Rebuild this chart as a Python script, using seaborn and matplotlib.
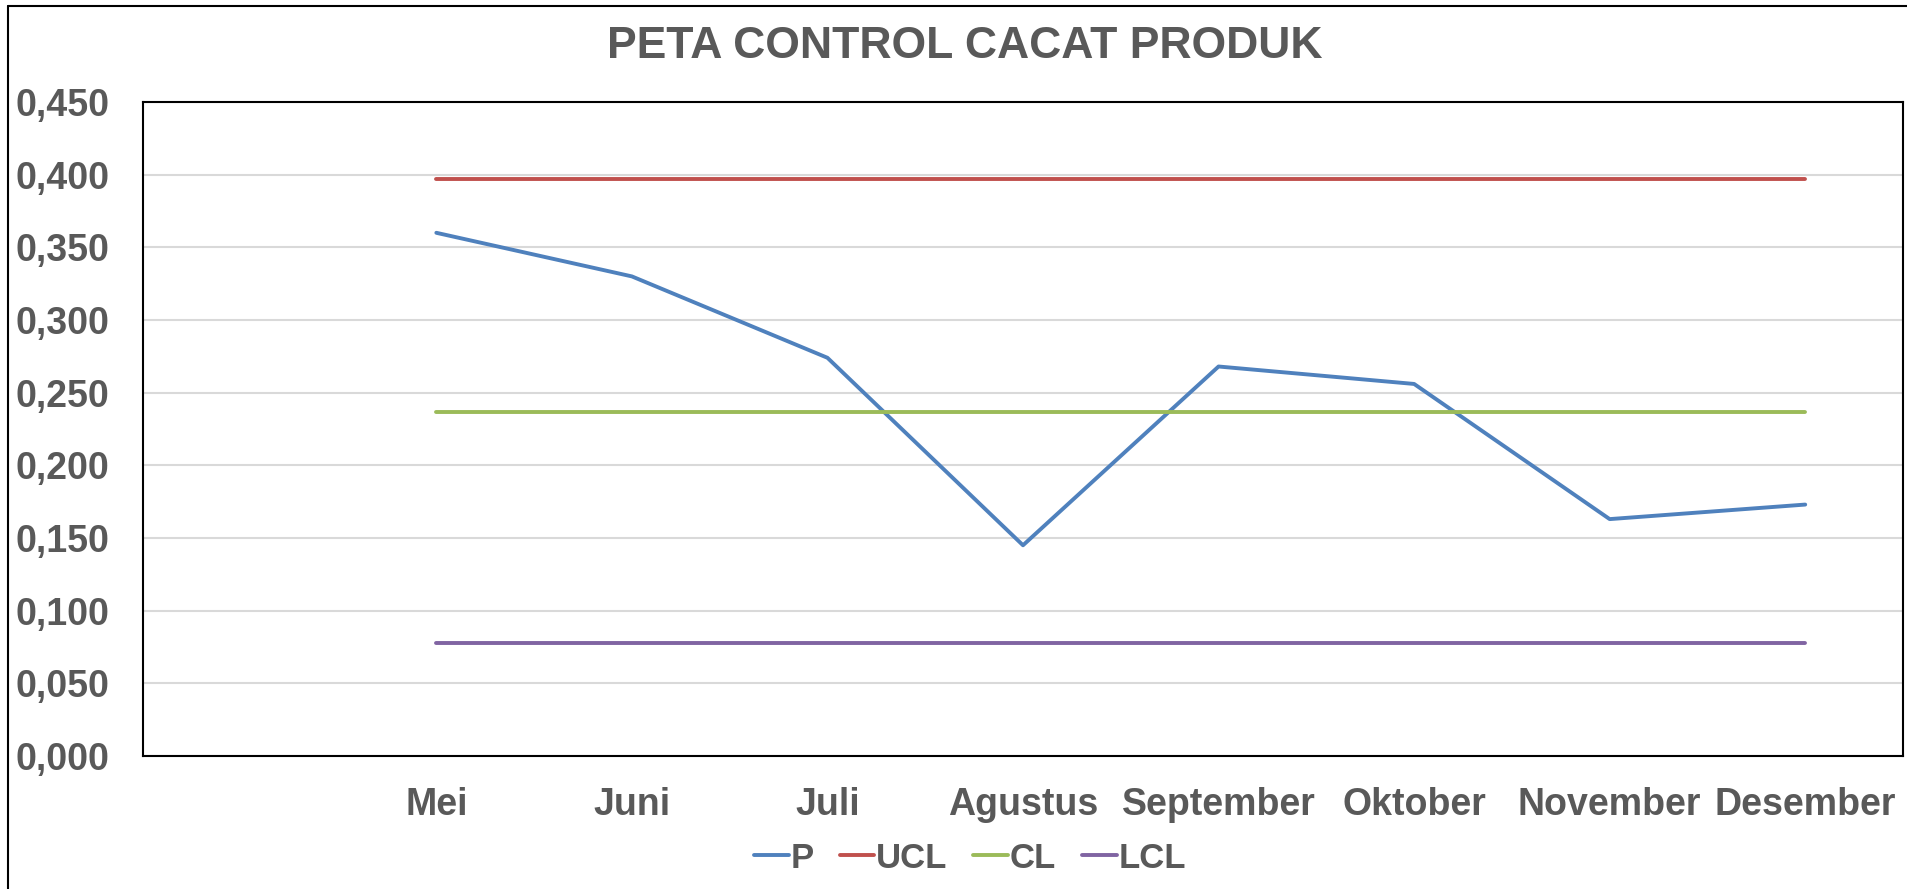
import numpy as np
import pandas as pd
import matplotlib
matplotlib.use('Agg')
import matplotlib.pyplot as plt
from matplotlib.lines import Line2D
import seaborn as sns

# Data peta kontrol
bulan = ['Mei', 'Juni', 'Juli', 'Agustus', 'September', 'Oktober', 'November', 'Desember']
p = [0.360, 0.330, 0.274, 0.145, 0.268, 0.256, 0.163, 0.173]
ucl = [0.397] * 8
cl = [0.237] * 8
lcl = [0.078] * 8

df = pd.DataFrame({'Bulan': bulan, 'P': p, 'UCL': ucl, 'CL': cl, 'LCL': lcl})
long_df = df.melt(id_vars='Bulan', var_name='Seri', value_name='Nilai')
long_df['x'] = long_df['Bulan'].map({b: i for i, b in enumerate(bulan)})

sns.set_style('white')
plt.rcParams['font.family'] = ['Liberation Sans Narrow', 'Liberation Sans', 'DejaVu Sans']

warna = {'P': '#4F81BD', 'UCL': '#C0504D', 'CL': '#9BBB59', 'LCL': '#8064A2'}
abu = '#595959'

fig = plt.figure(figsize=(19.08, 8.89), dpi=100)
ax = fig.add_axes([143 / 1908, (889 - 756) / 889, (1903 - 143) / 1908, (756 - 102) / 889])

sns.lineplot(data=long_df, x='x', y='Nilai', hue='Seri', palette=warna,
             linewidth=2.8, ax=ax, legend=False, solid_capstyle='round')

ax.set_xlim(-1.5, 7.5)
ax.set_ylim(0, 0.45)
ax.set_xticks(range(len(bulan)))
ax.set_xticklabels(bulan)
yt = np.arange(0, 0.451, 0.05)
ax.set_yticks(yt)
ax.set_yticklabels([f'{v:.3f}'.replace('.', ',') for v in yt])
ax.tick_params(axis='both', length=0, labelsize=27, labelcolor=abu)
ax.tick_params(axis='y', pad=24)
ax.tick_params(axis='x', pad=22)
for lab in ax.get_xticklabels() + ax.get_yticklabels():
    lab.set_fontweight('bold')
ax.grid(axis='y', color='#D9D9D9', linewidth=1.5)
ax.set_axisbelow(True)
for s in ax.spines.values():
    s.set_color('black')
    s.set_linewidth(1.5)
ax.set_xlabel('')
ax.set_ylabel('')

fig.text(965 / 1908, 1 - 46 / 889, 'PETA CONTROL CACAT PRODUK', ha='center', va='center',
         fontsize=32, fontweight='bold', color=abu, family=['Liberation Sans', 'DejaVu Sans'])

handles = [Line2D([0], [0], color=warna[k], lw=2.8) for k in ['P', 'UCL', 'CL', 'LCL']]
fig.legend(handles, ['P', 'UCL', 'CL', 'LCL'], loc='center', bbox_to_anchor=(970 / 1908, 1 - 858 / 889),
           ncol=4, frameon=False, handlelength=1.0, handletextpad=0.05, columnspacing=0.75,
           prop={'size': 25, 'weight': 'bold'}, labelcolor=abu)

# bingkai luar
fig.add_artist(Line2D([8 / 1908, 8 / 1908], [0, 1 - 6 / 889], color='black', lw=1.5))
fig.add_artist(Line2D([8 / 1908, 1], [1 - 6 / 889, 1 - 6 / 889], color='black', lw=1.5))

fig.savefig('out.png', dpi=100)
